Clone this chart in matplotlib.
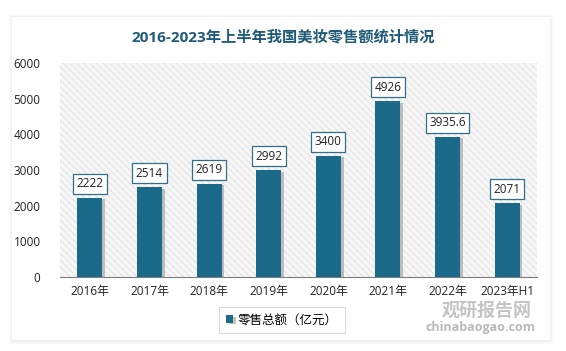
import matplotlib
matplotlib.use("Agg")
import matplotlib.pyplot as plt
from matplotlib.patches import Rectangle
import matplotlib.patheffects as pe

plt.rcParams['font.family'] = ['Open Sans', 'Noto Sans CJK SC', 'DejaVu Sans']
plt.rcParams['hatch.color'] = '#dcdcdc'
plt.rcParams['hatch.linewidth'] = 0.5

categories = ['2016年', '2017年', '2018年', '2019年', '2020年', '2021年', '2022年', '2023年H1']
sales = [2222, 2514, 2619, 2992, 3400, 4926, 3935.6, 2071]
labels = ['2222', '2514', '2619', '2992', '3400', '4926', '3935.6', '2071']
yticks = [0, 1000, 2000, 3000, 4000, 5000, 6000]

bar_color = '#1c6a8a'
title_color = '#1f5a78'

fig = plt.figure(figsize=(5.66, 3.51), dpi=100)
fig.patch.set_facecolor('white')

# card with soft shadow
W, H = 566, 351
for i, a in enumerate([0.03, 0.04, 0.05]):
    d = 3 - i
    fig.patches.append(Rectangle(((12 - d) / W, (351 - 341 - d) / H), (538 + 2 * d) / W, (324 + 2 * d) / H,
                                 transform=fig.transFigure, facecolor='#888888', alpha=a,
                                 edgecolor='none', zorder=-3))
fig.patches.append(Rectangle((12 / W, (351 - 340) / H), 538 / W, 323 / H,
                             transform=fig.transFigure, facecolor='white', edgecolor='none', zorder=-2))

ax = fig.add_axes([60 / W, (351 - 277) / H, 477 / W, 214 / H])
ax.set_zorder(2)
ax.set_facecolor('#f6f6f6')
ax.add_patch(Rectangle((0, 0), 1, 1, transform=ax.transAxes, facecolor='none',
                       hatch='\\\\\\\\\\', edgecolor='#dcdcdc', linewidth=0, zorder=0))

x = range(len(categories))
bars = ax.bar(x, sales, width=0.42, color=bar_color, zorder=3,
              path_effects=[pe.SimplePatchShadow(offset=(2, -1), shadow_rgbFace='#9a9a9a', alpha=0.6),
                            pe.Normal()])

for xi, v, lab in zip(x, sales, labels):
    ax.annotate(lab, (xi, v), xytext=(0, 10), textcoords='offset points',
                ha='center', va='center', fontsize=8.5, color='#222222', zorder=5,
                bbox=dict(boxstyle='square,pad=0.3', facecolor='white', edgecolor='#2f6f88', linewidth=0.9))

ax.set_xlim(-0.5, len(categories) - 0.5)
ax.set_ylim(0, 6000)
ax.set_yticks(yticks)
ax.set_xticks(list(x))
ax.set_xticklabels(categories)
ax.tick_params(axis='both', length=0, labelsize=8.5, labelcolor='#222222')
ax.tick_params(axis='y', pad=14)
ax.tick_params(axis='x', pad=6)
for s in ['top', 'right', 'left']:
    ax.spines[s].set_visible(False)
ax.spines['bottom'].set_color('#7f7f7f')
ax.spines['bottom'].set_linewidth(0.8)

fig.text(283 / W, 1 - 37 / H, '2016-2023年上半年我国美妆零售额统计情况', ha='center', va='center',
         fontsize=11, fontweight='bold', color=title_color)

leg = fig.legend([bars], ['零售总额（亿元）'], loc='center', bbox_to_anchor=(282 / W, 1 - 320 / H),
                 fontsize=9, frameon=True, fancybox=False, edgecolor='#d0d0d0',
                 handlelength=0.55, handleheight=0.55, handletextpad=0.4, borderpad=0.55,
                 borderaxespad=0)
leg.get_frame().set_linewidth(0.8)
leg.set_zorder(3)

# watermark
fig.text(487 / W, 1 - 311 / H, '观研报告网', ha='center', va='center', fontsize=13,
         fontweight='bold', color='#b0b0b0', alpha=0.75, zorder=1)
fig.text(481 / W, 1 - 327 / H, 'chinabaogao.com', ha='center', va='center', fontsize=9,
         fontweight='bold', color='#a8a8a8', alpha=0.8, zorder=1)

fig.savefig('out.png', dpi=100)
